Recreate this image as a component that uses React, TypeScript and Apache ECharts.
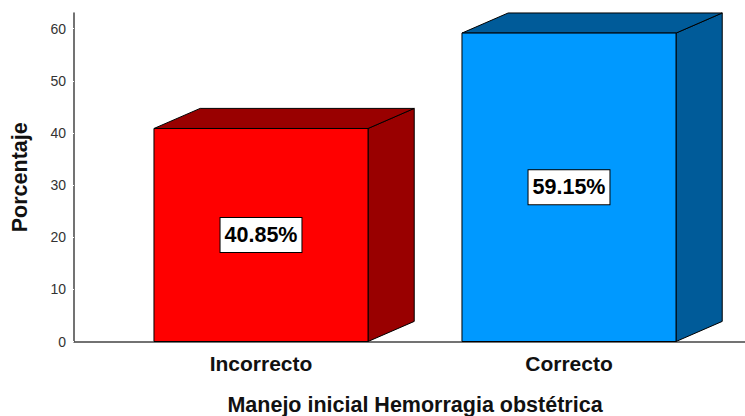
import React, { useEffect, useRef } from "react";
import * as echarts from "echarts";

const categories = ["Incorrecto", "Correcto"];
const values = [40.85, 59.15];
const labels = ["40.85%", "59.15%"];
const frontColors = ["#FF0000", "#0099FF"];
const darkColors = ["#990000", "#005B99"];
const yTicks = [0, 10, 20, 30, 40, 50, 60];

export default function App() {
  const ref = useRef<HTMLDivElement>(null);
  useEffect(() => {
    if (!ref.current) return;
    const chart = echarts.init(ref.current, null, { renderer: "svg" });
    const yMax = 63;
    const font = "'Liberation Sans', Arial, sans-serif";
    chart.setOption({
      animation: false,
      textStyle: { fontFamily: font },
      grid: [
        { left: 74, right: 0, top: 13, bottom: 74.5, outerBoundsMode: "none", containLabel: false },
        { left: 107, right: 22, top: 13, bottom: 74.5, outerBoundsMode: "none", containLabel: false },
      ],
      xAxis: [
        {
          gridIndex: 0,
          type: "value",
          min: 0,
          max: 1,
          axisLine: { show: true, onZero: false, lineStyle: { color: "#444", width: 1.5 } },
          axisTick: { show: false },
          axisLabel: { show: false },
          splitLine: { show: false },
        },
        {
          gridIndex: 1,
          type: "category",
          data: categories,
          axisLine: { show: false },
          axisTick: { show: false },
          axisLabel: {
            margin: 11,
            fontSize: 21,
            fontWeight: "bold",
            color: "#111",
            fontFamily: font,
          },
          name: "Manejo inicial Hemorragia obstétrica",
          nameLocation: "middle",
          nameGap: 52,
          nameTextStyle: { fontSize: 21.5, fontWeight: "bold", color: "#111", fontFamily: font },
        },
      ],
      yAxis: [
        {
          gridIndex: 0,
          type: "value",
          min: 0,
          max: yMax,
          interval: 10,
          axisLine: { show: true, lineStyle: { color: "#444", width: 1.5 } },
          axisTick: { show: true, length: 3, lineStyle: { color: "#fff", width: 1 }, inside: false },
          axisLabel: {
            margin: 8,
            fontSize: 14,
            color: "#333",
            fontFamily: font,
            showMaxLabel: false,
            formatter: (v: number) => (yTicks.includes(v) ? String(v) : ""),
          },
          splitLine: { show: false },
          name: "Porcentaje",
          nameLocation: "middle",
          nameGap: 43,
          nameTextStyle: { fontSize: 21.5, fontWeight: "bold", color: "#111", fontFamily: font },
        },
        {
          gridIndex: 1,
          type: "value",
          min: 0,
          max: yMax,
          show: false,
        },
      ],
      series: [
        {
          type: "custom",
          xAxisIndex: 1,
          yAxisIndex: 1,
          data: values.map((v, i) => [i, v]),
          renderItem: (params: any, api: any) => {
            const idx = api.value(0);
            const val = api.value(1);
            const top = api.coord([idx, val]);
            const base = api.coord([idx, 0]);
            const band = api.size([1, 0])[0];
            const w = band * 0.695;
            const dx = band * 0.15;
            const dy = -dx * 0.435;
            const L = top[0] - w / 2;
            const R = top[0] + w / 2;
            const T = top[1];
            const B = base[1];
            const i = params.dataIndex;
            const stroke = { stroke: "#000", lineWidth: 1 };
            return {
              type: "group",
              children: [
                {
                  type: "polygon",
                  shape: { points: [[R, T], [R + dx, T + dy], [R + dx, B + dy], [R, B]] },
                  style: { fill: darkColors[i], ...stroke },
                },
                {
                  type: "polygon",
                  shape: { points: [[L, T], [L + dx, T + dy], [R + dx, T + dy], [R, T]] },
                  style: { fill: darkColors[i], ...stroke },
                },
                {
                  type: "rect",
                  shape: { x: L, y: T, width: w, height: B - T },
                  style: { fill: frontColors[i], ...stroke },
                },
                {
                  type: "text",
                  style: {
                    text: labels[i],
                    x: top[0],
                    y: (T + B) / 2,
                    align: "center",
                    verticalAlign: "middle",
                    fill: "#000",
                    font: `bold 21.5px ${font}`,
                    backgroundColor: "#fff",
                    borderColor: "#000",
                    borderWidth: 1,
                    padding: [6, 4, 6, 4],
                  },
                },
              ],
            };
          },
        },
      ],
    });
    return () => chart.dispose();
  }, []);
  return <div ref={ref} style={{ width: 745, height: 416, position: "fixed", left: 0, top: 0, background: "#fff" }} />;
}
